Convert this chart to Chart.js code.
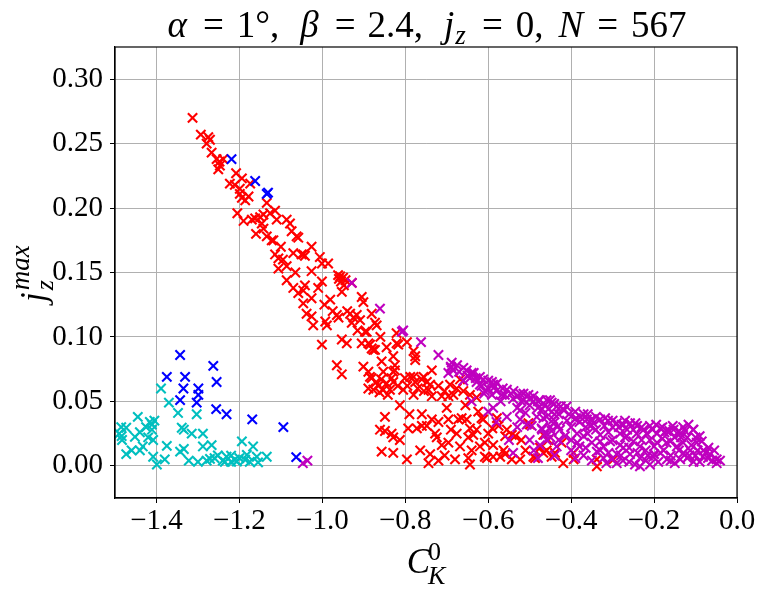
<!DOCTYPE html>
<html>
<head>
<meta charset="utf-8">
<script src="https://cdn.jsdelivr.net/npm/chart.js@4.4.0/dist/chart.umd.min.js"></script>
<style>
  body { margin: 0; background: #ffffff; }
  #wrap { width: 763px; height: 596px; }
</style>
</head>
<body>
<div id="wrap"><canvas id="scatter_chart" width="763" height="596"></canvas></div>
<script>
// ticks
const xTicks = [-1.4, -1.2, -1.0, -0.8, -0.6, -0.4, -0.2, 0.0]
const yTicks = [0.00, 0.05, 0.10, 0.15, 0.20, 0.25, 0.30]

// points [C_K^0, j_z^max]
const redPoints = [
  [-1.313,0.270],[-1.293,0.257],[-1.275,0.255],[-1.271,0.253],[-1.279,0.250],[-1.267,0.243],[-1.255,0.238],[-1.248,0.236],
  [-1.239,0.238],[-1.251,0.230],[-1.247,0.233],[-1.208,0.227],[-1.194,0.223],[-1.223,0.219],[-1.211,0.218],[-1.199,0.215],
  [-1.174,0.219],[-1.178,0.209],[-1.186,0.206],[-1.194,0.208],[-1.199,0.211],[-1.134,0.204],[-1.114,0.198],[-1.126,0.196],
  [-1.162,0.192],[-1.170,0.191],[-1.150,0.193],[-1.142,0.195],[-1.146,0.188],[-1.110,0.191],[-1.142,0.184],[-1.134,0.178],
  [-1.118,0.175],[-1.086,0.191],[-1.078,0.188],[-1.074,0.182],[-1.062,0.178],[-1.058,0.177],[-1.026,0.170],[-1.114,0.164],
  [-1.070,0.165],[-1.046,0.164],[-1.006,0.162],[-1.122,0.175],[-1.106,0.161],[-1.050,0.164],[-1.042,0.163],[-1.001,0.157],
  [-0.986,0.157],[-1.106,0.153],[-1.086,0.155],[-1.026,0.151],[-1.001,0.143],[-1.086,0.144],[-1.070,0.138],[-1.058,0.134],
  [-1.046,0.136],[-1.042,0.140],[-1.026,0.130],[-1.046,0.126],[-0.957,0.147],[-0.960,0.145],[-0.955,0.143],[-0.944,0.144],
  [-0.929,0.142],[-0.953,0.135],[-0.981,0.129],[-0.905,0.131],[-0.901,0.127],[-1.038,0.118],[-1.026,0.116],[-1.022,0.109],
  [-0.993,0.112],[-0.989,0.109],[-0.965,0.117],[-0.961,0.115],[-0.933,0.118],[-0.925,0.115],[-0.917,0.117],[-0.909,0.113],
  [-0.929,0.111],[-0.893,0.104],[-0.881,0.118],[-0.873,0.111],[-0.869,0.109],[-1.001,0.094],[-0.953,0.098],[-0.941,0.095],
  [-0.889,0.095],[-0.881,0.091],[-0.877,0.090],[-0.857,0.081],[-0.829,0.085],[-0.821,0.095],[-0.796,0.096],[-0.780,0.089],
  [-0.776,0.085],[-0.965,0.078],[-0.953,0.071],[-0.901,0.077],[-0.889,0.073],[-0.885,0.069],[-0.853,0.073],[-0.829,0.073],
  [-0.825,0.078],[-0.780,0.069],[-0.756,0.069],[-0.897,0.104],[-0.885,0.094],[-0.873,0.090],[-0.825,0.074],[-0.821,0.103],
  [-0.817,0.094],[-0.776,0.082],[-0.881,0.068],[-0.889,0.060],[-0.877,0.059],[-0.865,0.062],[-0.853,0.059],[-0.837,0.059],
  [-0.829,0.065],[-0.833,0.068],[-0.805,0.059],[-0.801,0.068],[-0.788,0.069],[-0.780,0.055],[-0.776,0.065],[-0.760,0.067],
  [-0.748,0.065],[-0.736,0.074],[-0.740,0.063],[-0.744,0.059],[-0.736,0.054],[-0.712,0.054],[-0.696,0.054],[-0.692,0.063],
  [-0.676,0.060],[-0.668,0.067],[-0.684,0.055],[-0.644,0.055],[-0.628,0.053],[-0.813,0.047],[-0.849,0.038],[-0.861,0.028],
  [-0.849,0.027],[-0.833,0.025],[-0.829,0.022],[-0.813,0.020],[-0.857,0.011],[-0.829,0.010],[-0.793,0.029],[-0.772,0.029],
  [-0.760,0.031],[-0.748,0.031],[-0.764,0.012],[-0.740,0.009],[-0.796,0.005],[-0.744,0.002],[-0.736,0.036],[-0.720,0.034],
  [-0.728,0.025],[-0.724,0.022],[-0.712,0.016],[-0.696,0.018],[-0.696,0.036],[-0.672,0.036],[-0.664,0.037],[-0.652,0.036],
  [-0.644,0.029],[-0.676,0.025],[-0.648,0.022],[-0.636,0.024],[-0.628,0.028],[-0.624,0.042],[-0.616,0.037],[-0.612,0.036],
  [-0.668,0.015],[-0.640,0.012],[-0.648,0.006],[-0.644,0.001],[-0.603,0.006],[-0.588,0.016],[-0.579,0.037],[-0.575,0.031],
  [-0.559,0.023],[-0.543,0.024],[-0.535,0.023],[-0.588,0.007],[-0.571,0.007],[-0.559,0.009],[-0.543,0.005],[-0.523,0.005],
  [-0.487,0.006],[-0.475,0.014],[-0.503,0.033],[-0.467,0.010],[-0.447,0.007],[-0.499,0.032],[-0.491,0.007],[-0.608,0.018],
  [-0.608,0.007],[-0.563,0.012],[-0.467,0.024],[-0.455,0.020],[-0.423,0.018],[-0.459,0.012],[-0.439,0.010],[-0.394,0.010],
  [-0.394,0.005],[-0.419,0.002],[-0.338,0.005],[-0.338,-0.0005],[-0.298,0.005],
  [-0.950,0.146],[-0.962,0.148],[-0.948,0.140],[-0.870,0.065],[-0.858,0.067],[-0.845,0.064],[-0.862,0.057],[-0.842,0.055],
  [-0.818,0.062],[-0.795,0.062],[-0.770,0.060],[-0.755,0.058],[-0.720,0.062],[-0.705,0.058],[-0.660,0.058],[-0.655,0.047],
  [-0.700,0.045],[-0.760,0.040],[-0.790,0.040],[-0.690,0.028],[-0.705,0.008],[-0.720,0.004],[-0.680,0.005],[-0.620,0.015],
  [-0.600,0.025],[-0.590,0.029],[-0.555,0.028],[-0.520,0.020],[-0.510,0.012],[-1.205,0.196],[-1.190,0.190],[-1.160,0.180],
  [-1.100,0.170],[-1.095,0.160],[-1.065,0.150],[-1.010,0.138],[-0.995,0.125],[-0.975,0.120],[-0.940,0.120],[-0.915,0.105],
  [-0.905,0.095],[-0.860,0.100],[-0.845,0.092]
]

const magentaPoints = [
  [-0.929,0.142],[-0.861,0.122],[-0.808,0.104],[-0.805,0.105],[-0.762,0.096],[-0.720,0.086],[-0.688,0.080],[-0.684,0.074],
  [-0.696,0.072],[-0.690,0.077],[-0.652,0.074],[-0.640,0.072],[-0.644,0.068],[-0.628,0.065],[-0.616,0.062],[-0.612,0.067],
  [-0.591,0.065],[-0.588,0.063],[-0.579,0.064],[-0.608,0.058],[-0.591,0.055],[-0.567,0.055],[-0.555,0.059],[-0.539,0.058],
  [-0.523,0.056],[-0.503,0.055],[-0.491,0.054],[-0.475,0.051],[-0.459,0.051],[-0.447,0.049],[-0.435,0.046],[-0.463,0.047],
  [-0.491,0.050],[-0.588,0.045],[-0.555,0.038],[-0.523,0.043],[-0.523,0.036],[-0.507,0.032],[-0.495,0.031],[-0.483,0.038],
  [-0.467,0.037],[-0.471,0.029],[-0.463,0.024],[-0.459,0.020],[-0.475,0.016],[-0.447,0.027],[-0.443,0.036],[-0.431,0.031],
  [-0.435,0.015],[-0.515,0.056],[-0.441,0.048],[-0.425,0.046],[-0.417,0.043],[-0.388,0.037],[-0.360,0.040],[-0.351,0.036],
  [-0.311,0.035],[-0.278,0.032],[-0.241,0.031],[-0.204,0.028],[-0.163,0.027],[-0.106,0.028],[-0.090,0.023],[-0.069,0.014],
  [-0.041,0.004],[-0.049,0.002],[-0.082,0.007],[-0.451,0.051],[-0.411,0.046],[-0.459,0.038],[-0.443,0.033],[-0.427,0.028],
  [-0.415,0.023],[-0.391,0.036],[-0.378,0.038],[-0.362,0.036],[-0.346,0.033],[-0.318,0.037],[-0.386,0.025],[-0.370,0.023],
  [-0.354,0.031],[-0.330,0.024],[-0.322,0.015],[-0.306,0.019],[-0.290,0.033],[-0.274,0.032],[-0.258,0.033],[-0.282,0.025],
  [-0.266,0.023],[-0.250,0.019],[-0.274,0.014],[-0.258,0.009],[-0.234,0.006],[-0.290,0.009],[-0.302,0.005],[-0.218,0.025],
  [-0.210,0.031],[-0.193,0.025],[-0.185,0.029],[-0.169,0.027],[-0.153,0.028],[-0.137,0.025],[-0.117,0.032],[-0.105,0.028],
  [-0.193,0.018],[-0.177,0.012],[-0.161,0.019],[-0.145,0.015],[-0.129,0.010],[-0.113,0.012],[-0.097,0.018],[-0.081,0.012],
  [-0.065,0.009],[-0.049,0.005],[-0.202,0.007],[-0.169,0.005],[-0.137,0.005],[-0.105,0.003],[-0.210,0.001],[-0.234,-0.0005],
  [-0.246,0.001],[-0.322,0.006],[-0.338,0.011],[-0.330,0.019],[-0.282,0.016],[-0.234,0.015],[-0.242,0.025],
  [-0.400,0.030],[-0.400,0.020],[-0.400,0.012],[-0.390,0.006],[-0.380,0.015],[-0.370,0.008],[-0.360,0.025],[-0.350,0.018],
  [-0.350,0.004],[-0.340,0.028],[-0.330,0.012],[-0.310,0.026],[-0.310,0.010],[-0.300,0.030],[-0.300,0.020],[-0.290,0.002],
  [-0.280,0.008],[-0.270,0.022],[-0.260,0.014],[-0.260,0.003],[-0.250,0.028],[-0.240,0.010],[-0.230,0.020],[-0.220,0.012],
  [-0.220,0.004],[-0.210,0.020],[-0.200,0.015],[-0.200,0.009],[-0.190,0.003],[-0.180,0.021],[-0.170,0.018],[-0.160,0.008],
  [-0.150,0.022],[-0.150,0.002],[-0.140,0.027],[-0.130,0.018],[-0.120,0.006],[-0.120,0.022],[-0.110,0.016],[-0.100,0.008],
  [-0.090,0.003],[-0.085,0.019],[-0.075,0.010],[-0.060,0.004],[-0.055,0.012],[-0.130,0.030],[-0.180,0.030],[-0.230,0.030],
  [-0.270,0.035],[-0.330,0.036],[-0.370,0.040],[-0.420,0.044],[-0.440,0.040],[-0.450,0.030],[-0.440,0.008],[-0.430,0.020],
  [-0.410,0.035],[-0.390,0.042],[-0.480,0.045],[-0.500,0.047],[-0.520,0.050],[-0.540,0.052],[-0.560,0.055],[-0.580,0.058],
  [-0.600,0.060],[-0.620,0.063],[-0.630,0.068],[-0.650,0.070],[-0.670,0.073],[-0.690,0.076],[-0.660,0.066],[-0.610,0.056],
  [-0.570,0.050],[-0.530,0.045],[-0.510,0.041],[-0.500,0.020],[-0.490,0.012],[-0.480,0.006],[-0.470,0.028],[-0.450,0.022],
  [-0.530,0.030],[-0.550,0.020],[-0.540,0.010],[-0.580,0.034],[-0.600,0.042],[-0.640,0.050],
  [-0.675,0.078],[-0.660,0.076],[-0.635,0.072],[-0.620,0.069],[-0.600,0.066],[-0.585,0.061],[-0.565,0.060],[-0.545,0.056],
  [-0.530,0.054],[-0.515,0.051],[-0.500,0.052],[-0.480,0.050],[-0.470,0.044],[-0.455,0.044],[-0.430,0.040],[-0.405,0.040],
  [-0.380,0.034],[-0.365,0.030],[-0.340,0.038],[-0.320,0.031],[-0.300,0.035],[-0.285,0.030],[-0.265,0.028],[-0.245,0.033],
  [-0.225,0.028],[-0.195,0.032],[-0.175,0.026],[-0.155,0.031],[-0.135,0.022],[-0.125,0.027],[-0.100,0.022],[-0.095,0.012],
  [-0.070,0.006],[-0.385,0.018],[-0.365,0.014],[-0.315,0.002],[-0.275,0.004],[-0.215,0.008],[-0.185,0.010],[-0.160,0.004],
  [-0.140,0.012],[-0.115,0.008],
  [-1.047,0.002],[-1.036,0.004]
]

const bluePoints = [
  [-1.343,0.086],[-1.375,0.069],[-1.331,0.069],[-1.335,0.060],[-1.343,0.051],[-1.299,0.060],[-1.299,0.055],[-1.303,0.049],
  [-1.263,0.0775],[-1.255,0.065],[-1.256,0.044],[-1.231,0.040],[-1.169,0.036],[-1.094,0.030],[-1.063,0.0067],
  [-1.219,0.238],[-1.162,0.221],[-1.134,0.211],[-1.131,0.212]
]

const cyanPoints = [
  [-1.484,0.023],[-1.483,0.020],[-1.473,0.0295],[-1.473,0.009],[-1.452,0.0225],[-1.445,0.038],[-1.440,0.012],[-1.433,0.015],
  [-1.425,0.030],[-1.416,0.034],[-1.411,0.032],[-1.411,0.028],[-1.408,0.020],[-1.408,0.007],[-1.399,0.001],[-1.389,0.060],
  [-1.375,0.0155],[-1.370,0.049],[-1.348,0.041],[-1.343,0.011],[-1.339,0.0295],[-1.334,0.028],[-1.334,0.013],[-1.322,0.004],
  [-1.315,0.025],[-1.303,0.040],[-1.288,0.025],[-1.288,0.015],[-1.279,0.004],[-1.271,0.0054],[-1.267,0.016],[-1.252,0.008],
  [-1.235,0.003],[-1.231,0.007],[-1.220,0.0078],[-1.211,0.0047],[-1.206,0.0033],[-1.194,0.019],[-1.186,0.0047],[-1.182,0.0085],
  [-1.167,0.015],[-1.158,0.007],[-1.155,0.0026],[-1.134,0.007],
  [-1.490,0.025],[-1.485,0.030],[-1.460,0.012],[-1.440,0.026],[-1.420,0.022],[-1.405,0.035],[-1.380,0.005],[-1.300,0.003],
  [-1.260,0.006],[-1.240,0.004],[-1.220,0.003],[-1.175,0.003],[-1.200,0.006]
]

const SERIF = '"Liberation Serif", "DejaVu Serif", serif'

function to_points(pairs) {
  return pairs.map(p => ({ x: p[0], y: p[1] }))
}

function add_scatter_dataset(label, pairs, color, order) {
  return {
    label: label,
    data: to_points(pairs),
    pointStyle: "crossRot",
    pointRadius: 6.6,
    pointHoverRadius: 6.6,
    borderColor: color,
    backgroundColor: color,
    pointBorderWidth: 2.1,
    order: order
  }
}

// pieces: {t: text, f: font, dy: shift, keep: do not advance, gap: extra space after}
function draw_runs(ctx, runs, x, y, align) {
  let total = 0
  let widths = []
  runs.forEach(r => {
    ctx.font = r.f
    let w = r.keep ? 0 : ctx.measureText(r.t).width + (r.gap || 0)
    widths.push(w)
    total += w
  })
  let x_pos = (align == "center") ? x - total / 2 : x
  runs.forEach((r, i) => {
    ctx.font = r.f
    ctx.fillText(r.t, x_pos, y + (r.dy || 0))
    x_pos += widths[i]
  })
}

const math_text = {
  id: "math_text",
  afterDraw(chart) {
    let ctx = chart.ctx
    let area = chart.chartArea
    ctx.save()
    ctx.fillStyle = "#000000"
    ctx.textBaseline = "alphabetic"
    ctx.textAlign = "left"

    let it_t = "italic 37px " + SERIF
    let rm_t = "37px " + SERIF
    let it_ts = "italic 27px " + SERIF

    // title
    draw_runs(ctx, [
      { t: "\u03b1", f: it_t, gap: 16 }, { t: "=", f: rm_t, gap: 13 }, { t: "1\u00b0,", f: rm_t, gap: 21 },
      { t: "\u03b2", f: it_t, gap: 16 }, { t: "=", f: rm_t, gap: 12 }, { t: "2.4,", f: rm_t, gap: 21 },
      { t: "j", f: it_t, gap: 1 }, { t: "z", f: it_ts, dy: 7, gap: 16 }, { t: "=", f: rm_t, gap: 13 }, { t: "0,", f: rm_t, gap: 15 },
      { t: "N", f: it_t, gap: 14 }, { t: "=", f: rm_t, gap: 13 }, { t: "567", f: rm_t }
    ], (area.left + area.right) / 2 + 1, 37, "center")

    // x axis label
    let it_l = "italic 35px " + SERIF
    let it_ls = "italic 26px " + SERIF
    let rm_ls = "26px " + SERIF
    draw_runs(ctx, [
      { t: "C", f: it_l, gap: -2 }, { t: "0", f: rm_ls, dy: -13, keep: true }, { t: "K", f: it_ls, dy: 11 }
    ], (area.left + area.right) / 2, 573, "center")

    // y axis label
    ctx.translate(45, 302)
    ctx.rotate(-Math.PI / 2)
    draw_runs(ctx, [
      { t: "j", f: it_l, gap: 2 }, { t: "max", f: "italic 27px " + SERIF, dy: -16, keep: true }, { t: "z", f: it_ls, dy: 8 }
    ], 0, 0, "left")
    ctx.restore()

    // box round the plot
    ctx.save()
    ctx.strokeStyle = "#000000"
    ctx.lineWidth = 1.2
    ctx.strokeRect(area.left, area.top, area.right - area.left, area.bottom - area.top)
    ctx.restore()
  }
}

let ctx1 = document.getElementById("scatter_chart").getContext("2d")

new Chart(ctx1, {
  type: "scatter",
  data: {
    datasets: [
      add_scatter_dataset("red", redPoints, "#ff0000", 4),
      add_scatter_dataset("magenta", magentaPoints, "#bf00bf", 3),
      add_scatter_dataset("blue", bluePoints, "#0000ff", 2),
      add_scatter_dataset("cyan", cyanPoints, "#00bfbf", 1)
    ]
  },
  options: {
    responsive: false,
    animation: false,
    devicePixelRatio: 1,
    layout: { padding: { left: 0, right: 26, top: 47, bottom: 0 } },
    plugins: {
      legend: { display: false },
      tooltip: { enabled: false },
      title: { display: false }
    },
    scales: {
      x: {
        type: "linear",
        min: -1.5,
        max: 0.0,
        afterBuildTicks: axis => { axis.ticks = xTicks.map(v => ({ value: v })) },
        afterFit: axis => { axis.height = 98 },
        grid: { color: "#b0b0b0", lineWidth: 1, tickColor: "#000000", tickLength: 5 },
        border: { display: true, color: "#000000", width: 1.2 },
        ticks: {
          color: "#000000",
          padding: 1,
          maxRotation: 0,
          font: { family: SERIF, size: 29 },
          callback: v => v.toFixed(1).replace("-", "\u2212")
        }
      },
      y: {
        type: "linear",
        min: -0.025,
        max: 0.325,
        afterBuildTicks: axis => { axis.ticks = yTicks.map(v => ({ value: v })) },
        afterFit: axis => { axis.width = 115 },
        grid: { color: "#b0b0b0", lineWidth: 1, tickColor: "#000000", tickLength: 5 },
        border: { display: true, color: "#000000", width: 1.2 },
        ticks: {
          color: "#000000",
          padding: 7,
          font: { family: SERIF, size: 29 },
          callback: v => v.toFixed(2)
        }
      }
    }
  },
  plugins: [math_text]
})
</script>
</body>
</html>
